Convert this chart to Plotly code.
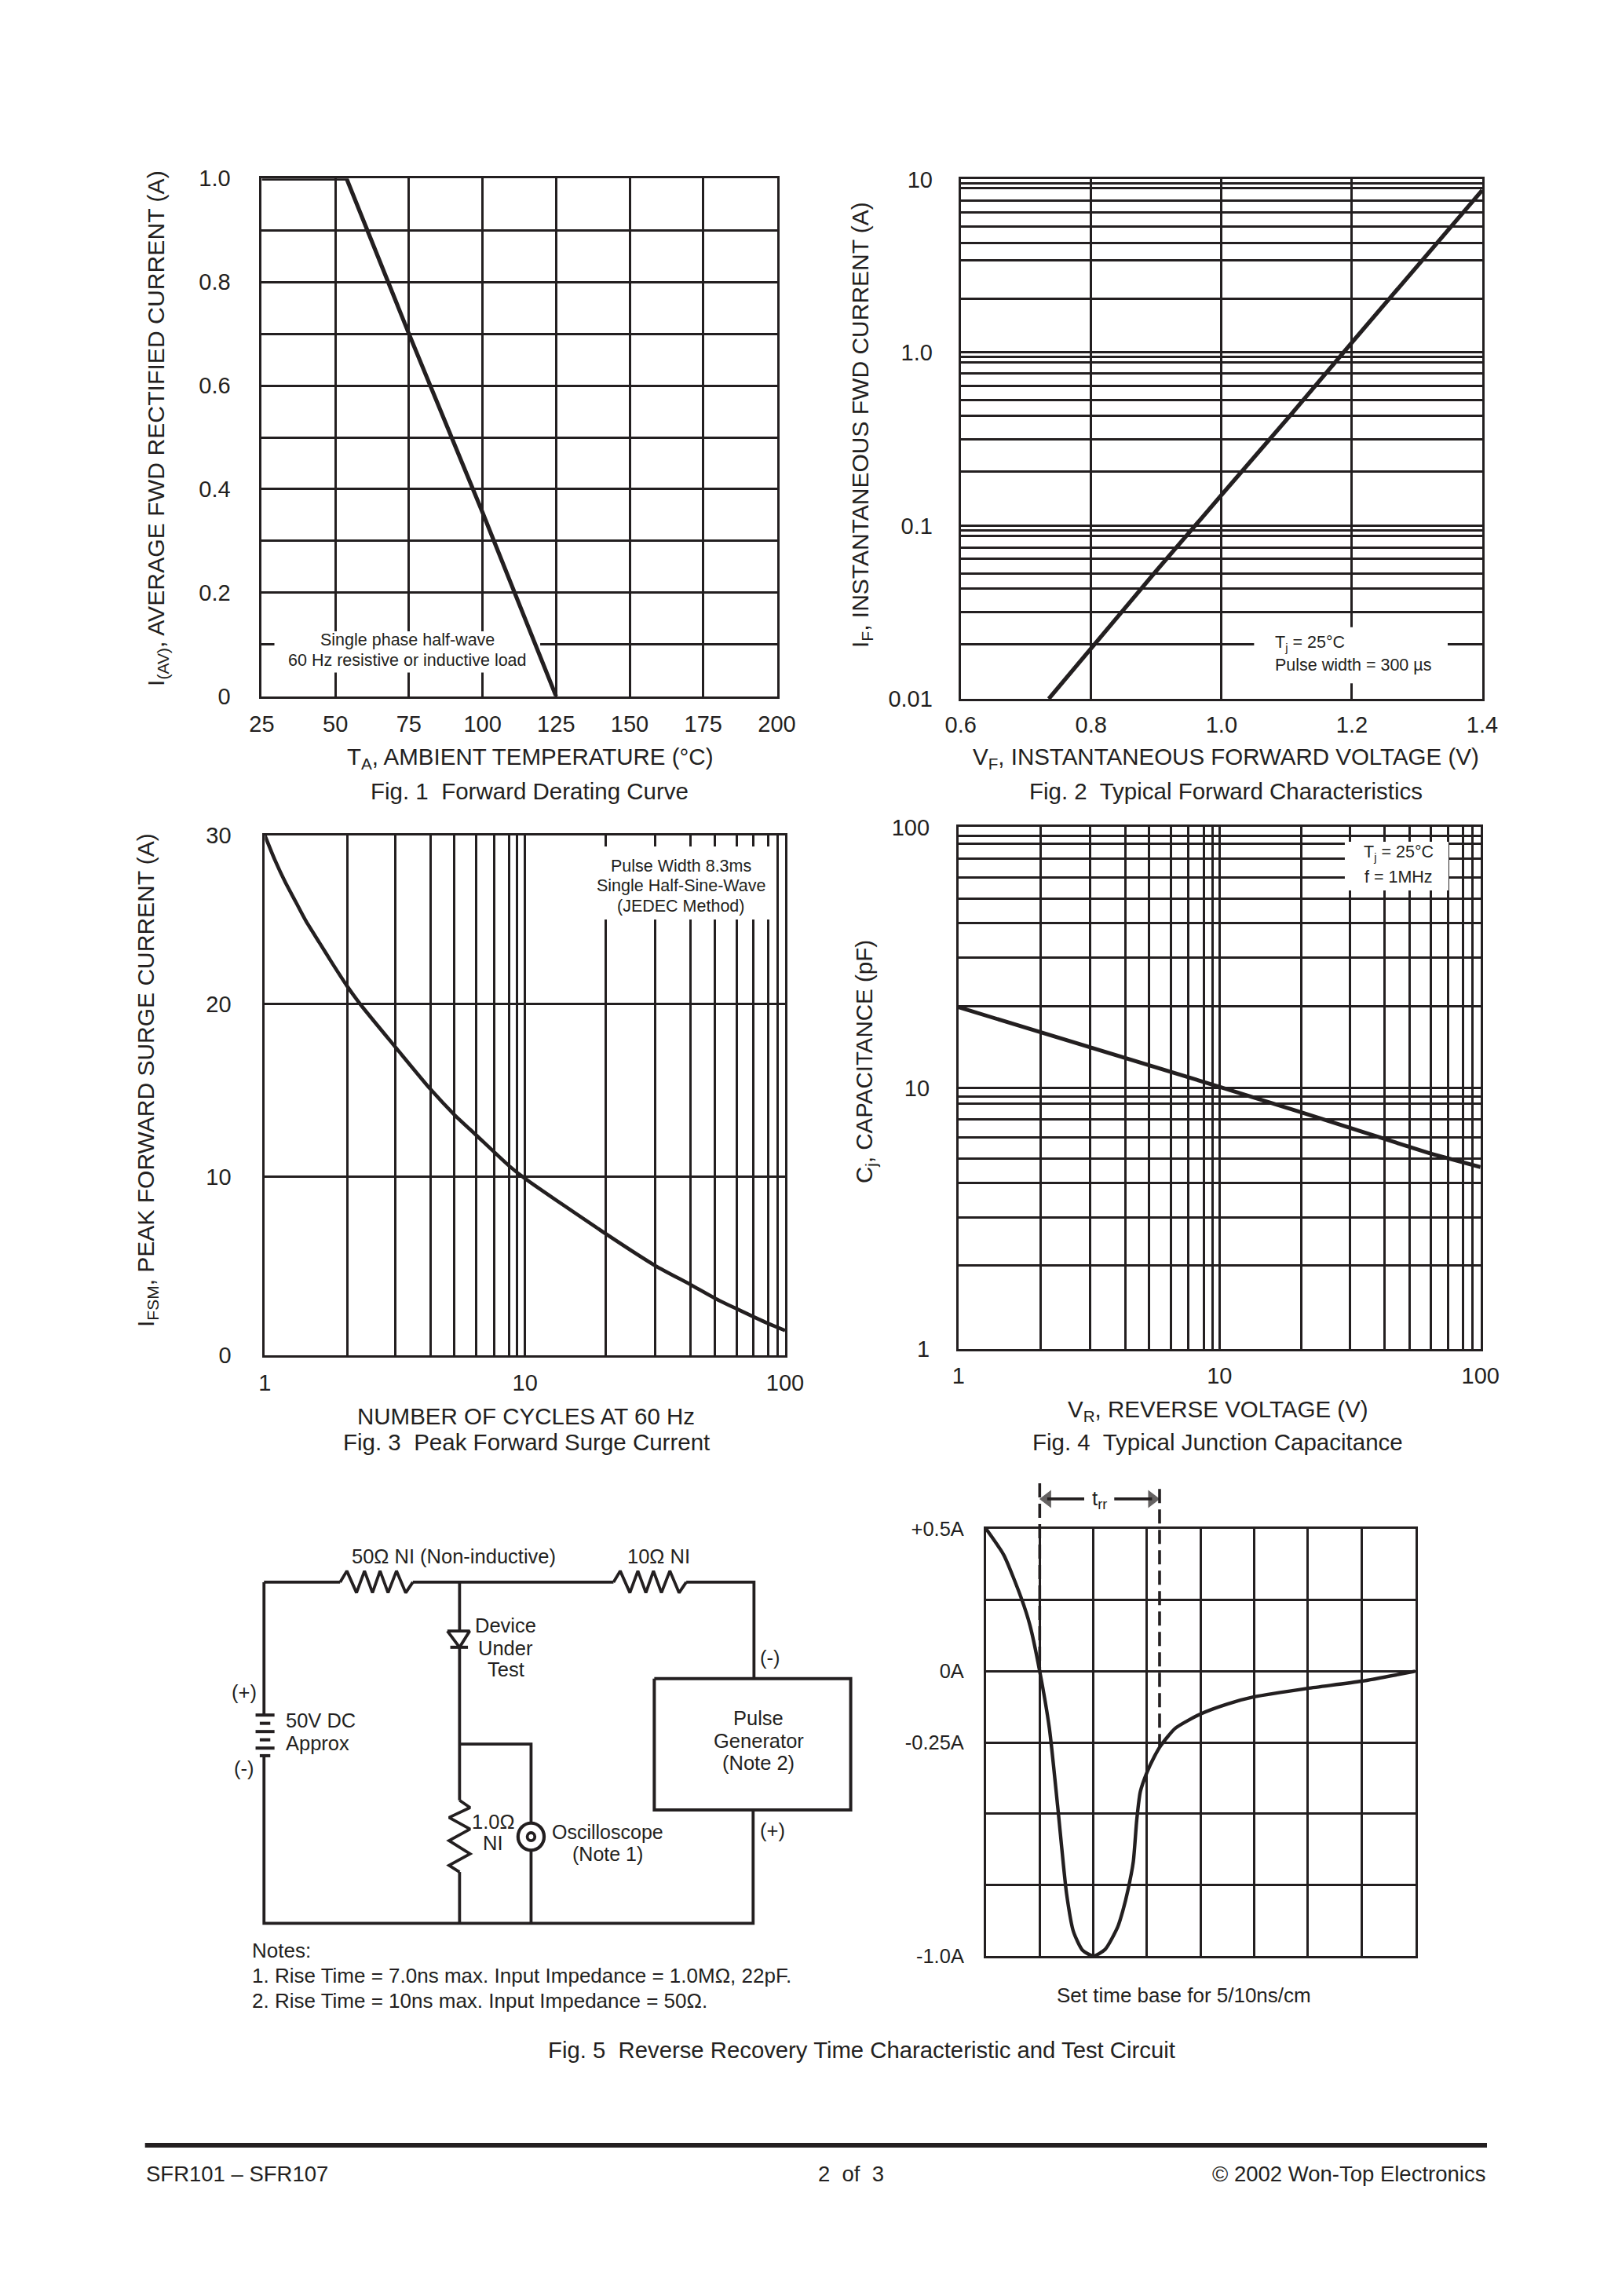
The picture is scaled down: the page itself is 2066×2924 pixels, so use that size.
import plotly.graph_objects as go

PAGE_W, PAGE_H = 2066, 2924
INK = "#231f20"
FONT = "Liberation Sans, Arial, sans-serif"

# ---------- Fig. 1 ----------
f1_x = [25, 53.8, 75, 100, 125]
f1_y = [1.0, 1.0, 0.70, 0.355, 0.0]
f1_xticks = [25, 50, 75, 100, 125, 150, 175, 200]
f1_xlabels = ["25", "50", "75", "100", "125", "150", "175", "200"]
f1_yticks = [0, .2, .4, .6, .8, 1.0]
f1_ylabels = ["0", "0.2", "0.4", "0.6", "0.8", "1.0"]
f1_ygrid = [.1, .3, .5, .7, .9]

# ---------- Fig. 2 ----------
f2_x = [.735, .802, .8966, .997, 1.105, 1.201, 1.309, 1.4]
f2_y = [.01, .02, .053, .146, .431, 1.154, 3.41, 8.66]
f2_xticks = [.6, .8, 1.0, 1.2, 1.4]
f2_xlabels = ["0.6", "0.8", "1.0", "1.2", "1.4"]
f2_yticks = [.01, .1, 1.0, 10]
f2_ylabels = ["0.01", "0.1", "1.0", "10"]
f2_ygrid = [.0207, .0316, .0433, .053, .0643, .0747, .0877, .0939,
            .206, .316, .431, .53, .643, .76, .877, .939,
            2.05, 3.41, 4.28, 5.33, 6.43, 7.51, 8.92, 9.44]

# ---------- Fig. 3 ----------
f3_x = [1, 1.0915, 1.198, 1.314, 1.441, 1.618, 1.817, 2.064, 2.344, 3.17, 4.33, 5.34, 6.5, 8.66, 10,
        20.5, 31.7, 43.3, 53.6, 65, 85.9, 100]
f3_y = [30, 28.6, 27.3, 26.17, 25.04, 23.83, 22.62, 21.34, 20.2, 17.8, 15.36, 13.9, 12.7, 10.95, 10.2,
        7.0, 5.17, 4.08, 3.3, 2.69, 1.84, 1.43]
f3_xticks = [1, 10, 100]
f3_xlabels = ["1", "10", "100"]
f3_xgrid = [2.07, 3.17, 4.33, 5.34, 6.5, 7.59, 8.66, 9.31,
            20.5, 31.7, 43.3, 53.6, 65, 75.6, 85.9, 93.4]
f3_yticks = [0, 10.29, 20.27, 30]
f3_ylabels = ["0", "10", "20", "30"]

# ---------- Fig. 4 ----------
f4_x = [1, 2.06, 3.2, 4.35, 10, 20.6, 43, 64.4, 100]
f4_y = [20.4, 16.4, 14.3, 13.0, 10.1, 8.06, 6.4, 5.6, 4.97]
f4_xticks = [1, 10, 100]
f4_xlabels = ["1", "10", "100"]
f4_xgrid = [2.06, 3.2, 4.35, 5.36, 6.51, 7.6, 8.71, 9.42,
            20.6, 31.7, 43, 53.5, 64.4, 75, 85.9, 93.3]
f4_yticks = [1, 10, 100]
f4_ylabels = ["1", "10", "100"]
f4_ygrid = [2.08, 3.19, 4.32, 5.36, 6.45, 7.57, 8.72, 9.29,
            20.6, 31.6, 42.9, 53.2, 64, 75.7, 86.1, 92.9]

# ---------- Fig. 5 waveform ----------
f5_t = [0, .33, .65, .82, 1.0, 1.18, 1.34, 1.5, 1.63, 1.8, 2.0, 2.22, 2.45, 2.55, 2.647, 2.745, 2.81, 2.876,
        3.0, 3.137, 3.25, 3.53, 4.0, 4.5, 5, 6, 7, 8]
f5_i = [.5, .408, .26, .16, 0, -.2, -.484, -.78, -.915, -.98, -1, -.977, -.9, -.841, -.767, -.669, -.521, -.423,
        -.355, -.30, -.263, -.2, -.15, -.115, -.09, -.06, -.035, 0]
f5_xgrid = [0, 1, 2, 3, 4, 5, 6, 7, 8]
f5_yticks = [.5, 0, -.25, -1]
f5_ylabels = ["+0.5A", "0A", "-0.25A", "-1.0A"]
f5_ygrid = [.25, -.5, -.75]
f5_trr = [1.0, 3.235]

# ---------- Test circuit (schematic units) ----------
wires = [
    ([105, 286], [178, 178]),
    ([459, 936], [178, 178]),
    ([1109, 1270, 1270], [178, 178, 470]),
    ([105, 105], [178, 578]),
    ([105, 105, 1268, 1268], [703, 1210, 1210, 867]),
    ([570, 570], [178, 330]),
    ([570, 570], [375, 838]),
    ([570, 570], [1055, 1210]),
    ([570, 740, 740], [668, 668, 905]),
    ([740, 740], [990, 1210]),
]
res_50_x = [286, 302, 325, 344, 363, 381, 400, 420, 442, 459]
res_10_x = [936, 952, 975, 994, 1013, 1031, 1050, 1070, 1092, 1109]
res_h_y = [178, 144, 210, 144, 210, 144, 210, 144, 210, 178]
res_1_x = [570, 595, 545, 595, 545, 595, 545, 570]
res_1_y = [838, 860, 890, 925, 960, 1000, 1035, 1055]
diode_x = [541, 594, 570, 541]
diode_y = [326, 326, 375, 326]
diode_bar_x = [548, 590]
diode_bar_y = [375, 375]
gen_x = [1033, 1500, 1500, 1033, 1033]
gen_y = [470, 470, 867, 867, 470]
batt_plates = [([85, 130], 580), ([95, 120], 605), ([85, 130], 630), ([95, 120], 655), ([85, 130], 680), ([95, 120], 703)]
scope_center = (740, 948)
circuit_text = [
    ("50Ω NI (Non-inductive)", 557, 100, "center", 25.5), ("10Ω NI", 1043, 100, "center", 25.5),
    ("Device", 680, 310, "center", 25.5), ("Under", 680, 377, "center", 25.5), ("Test", 680, 443, "center", 25.5),
    ("(+)", 57, 510, "center", 25.5), ("(-)", 57, 742, "center", 25.5),
    ("50V DC", 153, 597, "left", 25.5), ("Approx", 153, 665, "left", 25.5),
    ("(-)", 1308, 407, "center", 25.5), ("(+)", 1315, 930, "center", 25.5),
    ("Pulse", 1281, 590, "center", 25.5), ("Generator", 1281, 658, "center", 25.5), ("(Note 2)", 1281, 724, "center", 25.5),
    ("1.0Ω", 650, 902, "center", 25.5), ("NI", 650, 967, "center", 25.5),
    ("Oscilloscope", 922, 933, "center", 25), ("(Note 1)", 922, 1000, "center", 25),
    ("Notes:", 72, 1293, "left", 26),
    ("1. Rise Time = 7.0ns max. Input Impedance = 1.0MΩ, 22pF.", 72, 1368, "left", 26),
    ("2. Rise Time = 10ns max. Input Impedance = 50Ω.", 72, 1445, "left", 26),
]


def xdom(a, b):
    return [a / PAGE_W, b / PAGE_W]


def ydom(top, bottom):
    return [1 - bottom / PAGE_H, 1 - top / PAGE_H]


def axis(ax_type, rng, dom_, tickvals, ticktext, anchor, standoff, grid=None, size=29):
    d = dict(type=ax_type, range=rng, domain=dom_, tickmode="array", tickvals=tickvals, ticktext=ticktext,
             showgrid=True, gridcolor=INK, gridwidth=3, zeroline=False,
             showline=True, linecolor=INK, linewidth=3, mirror=True, ticks="",
             ticklabelstandoff=standoff, anchor=anchor,
             tickfont=dict(family=FONT, size=size, color=INK), fixedrange=True)
    if grid:
        d["minor"] = dict(tickmode="array", tickvals=grid, showgrid=True, gridcolor=INK, gridwidth=3, ticks="")
    return d


layout = dict(
    width=PAGE_W, height=PAGE_H, margin=dict(l=0, r=0, t=0, b=0, autoexpand=False),
    paper_bgcolor="white", plot_bgcolor="rgba(0,0,0,0)", showlegend=False, hovermode=False,
    font=dict(family=FONT, color=INK),
)
layout["xaxis"] = axis("linear", [25, 200], xdom(333.4, 989.5), f1_xticks, f1_xlabels, "y", 7)
layout["yaxis"] = axis("linear", [0, 1], ydom(227.3, 886.7), f1_yticks, f1_ylabels, "x", 31, f1_ygrid)
layout["xaxis2"] = axis("linear", [.6, 1.4], xdom(1223.7, 1888), f2_xticks, f2_xlabels, "y2", 5)
layout["yaxis2"] = axis("log", [-2, 1], ydom(228.4, 890), f2_yticks, f2_ylabels, "x2", 27, f2_ygrid)
layout["xaxis3"] = axis("log", [0, 2], xdom(337.4, 1000), f3_xticks, f3_xlabels, "y3", 7, f3_xgrid)
layout["yaxis3"] = axis("linear", [0, 30], ydom(1064, 1726), f3_yticks, f3_ylabels, "x3", 34)
layout["xaxis4"] = axis("log", [0, 2], xdom(1220.9, 1885.8), f4_xticks, f4_xlabels, "y4", 7, f4_xgrid)
layout["yaxis4"] = axis("log", [0, 2], ydom(1053.4, 1717.6), f4_yticks, f4_ylabels, "x4", 28, f4_ygrid)
layout["xaxis5"] = axis("linear", [0, 8], xdom(1256, 1802.5), f5_xgrid, f5_xgrid, "y5", 0)
layout["xaxis5"]["showticklabels"] = False
layout["yaxis5"] = axis("linear", [-1, .5], ydom(1947, 2491), f5_yticks, f5_ylabels, "x5", 20, f5_ygrid, size=25.5)
# hidden schematic axes for the test circuit
layout["xaxis6"] = dict(range=[0, 1568], domain=xdom(280, 1120), visible=False, anchor="y6", fixedrange=True)
layout["yaxis6"] = dict(range=[1568, 0], domain=ydom(1940, 2600), visible=False, anchor="x6", fixedrange=True)
# hidden extension of the Fig. 5 axes, reaching above the graticule for the t_rr marks
layout["xaxis7"] = dict(range=[0, 8], domain=xdom(1256, 1802.5), visible=False, anchor="y7", fixedrange=True)
layout["yaxis7"] = dict(range=[-1, .671], domain=ydom(1885, 2491), visible=False, anchor="x7", fixedrange=True)

fig = go.Figure()


def curve(x, y, n, width=5.2, spline=False, dash=None):
    fig.add_trace(go.Scatter(x=x, y=y, mode="lines", xaxis=f"x{n}", yaxis=f"y{n}", cliponaxis=False,
                             line=dict(color=INK, width=width, shape="spline" if spline else "linear",
                                       smoothing=0.6, dash=dash), hoverinfo="skip"))


curve(f1_x, f1_y, "")
curve(f2_x, f2_y, 2)
curve(f3_x, f3_y, 3, 4.6, True)
curve(f4_x, f4_y, 4, 5)
curve(f5_t, f5_i, 5, 4.4, True)
curve([f5_trr[0]] * 2, [.66, 0], 7, 3.6, dash="18px,8px")
curve([f5_trr[1]] * 2, [.64, -.263], 7, 3.6, dash="18px,8px")
for head, tail, sym in [(f5_trr[0], 1.83, "triangle-left"), (f5_trr[1], 2.39, "triangle-right")]:
    fig.add_trace(go.Scatter(x=[tail, head + (0.14 if head < tail else -0.14)], y=[.605, .605], mode="lines+markers",
                             xaxis="x7", yaxis="y7", cliponaxis=False, line=dict(color=INK, width=3.8),
                             hoverinfo="skip", marker=dict(symbol=sym, size=[0, 20], color=INK, line_width=0)))

# circuit
for wx, wy in wires:
    curve(wx, wy, 6, 3.8)
curve(res_50_x, res_h_y, 6, 3.8)
curve(res_10_x, res_h_y, 6, 3.8)
curve(res_1_x, res_1_y, 6, 3.8)
curve(diode_x, diode_y, 6, 3.8)
curve(diode_bar_x, diode_bar_y, 6, 4)
curve(gen_x, gen_y, 6, 4)
for px, py in batt_plates:
    curve(px, [py, py], 6, 4)

shapes = [
    dict(type="rect", xref="x", yref="y", x0=29.3, x1=119.6, y0=.0458, y1=.1254, layer="between",
         line_width=0, fillcolor="white"),
    dict(type="rect", xref="x2", yref="y2", x0=1.05, x1=1.347, y0=.0123, y1=.0259, layer="between",
         line_width=0, fillcolor="white"),
    dict(type="rect", xref="x3", yref="y3", x0=19.5, x1=88.9, y0=25.15, y1=29.37, layer="between",
         line_width=0, fillcolor="white"),
    dict(type="rect", xref="x4", yref="y4", x0=30.2, x1=75.4, y0=57.2, y1=87.9, layer="between",
         line_width=0, fillcolor="white"),
    # scope jack: ring and dot
    dict(type="circle", xref="x6", yref="y6", x0=scope_center[0] - 31, x1=scope_center[0] + 31,
         y0=scope_center[1] - 41, y1=scope_center[1] + 41, line=dict(color=INK, width=4.2), fillcolor="white",
         layer="above"),
    dict(type="circle", xref="x6", yref="y6", x0=scope_center[0] - 9, x1=scope_center[0] + 9,
         y0=scope_center[1] - 12, y1=scope_center[1] + 12, line=dict(color=INK, width=3.8), fillcolor="white",
         layer="above"),
    # footer rule
    dict(type="rect", xref="paper", yref="paper", x0=184.7 / PAGE_W, x1=1894 / PAGE_W,
         y0=1 - 2735 / PAGE_H, y1=1 - 2729 / PAGE_H, line_width=0, fillcolor=INK),
]

ann = []


def text(s, x, y, size=29.5, anchor="center", angle=0):
    ann.append(dict(text=s, x=x / PAGE_W, y=1 - y / PAGE_H, xref="paper", yref="paper", showarrow=False,
                    xanchor=anchor, yanchor="middle", textangle=angle,
                    font=dict(family=FONT, size=size, color=INK)))


text("T<sub>A</sub>, AMBIENT TEMPERATURE (°C)", 675, 966)
text("Fig. 1  Forward Derating Curve", 674, 1007)
text("I<sub>(AV)</sub>, AVERAGE FWD RECTIFIED CURRENT (A)", 200, 546, 30.2, angle=-90)
text("Single phase half-wave", 519, 815, 21.5)
text("60 Hz resistive or inductive load", 519, 840.6, 21.5)

text("V<sub>F</sub>, INSTANTANEOUS FORWARD VOLTAGE (V)", 1561, 966)
text("Fig. 2  Typical Forward Characteristics", 1561, 1007)
text("I<sub>F</sub>, INSTANTANEOUS FWD CURRENT (A)", 1097, 541, 30, angle=-90)
text("T<sub>j</sub> = 25°C", 1621.5, 819, 21.5, "left")
text("Pulse width = 300 µs", 1621.5, 847, 21.5, "left")

text("NUMBER OF CYCLES AT 60 Hz", 670, 1803)
text("Fig. 3  Peak Forward Surge Current", 670, 1836)
text("I<sub>FSM</sub>, PEAK FORWARD SURGE CURRENT (A)", 187, 1376, 30, angle=-90)
text("Pulse Width 8.3ms", 867, 1103, 21.5)
text("Single Half-Sine-Wave", 867, 1128, 21.5)
text("(JEDEC Method)", 867, 1154, 21.5)

text("V<sub>R</sub>, REVERSE VOLTAGE (V)", 1551, 1796)
text("Fig. 4  Typical Junction Capacitance", 1551, 1836)
text("C<sub>j</sub>, CAPACITANCE (pF)", 1102, 1352, 29.5, angle=-90)
text("T<sub>j</sub> = 25°C", 1781.5, 1086.6, 21.5)
text("f = 1MHz", 1781.5, 1116.6, 21.5)

text("Set time base for 5/10ns/cm", 1508, 2541, 26)
text("Fig. 5  Reverse Recovery Time Characteristic and Test Circuit", 1097, 2610, 29.3)
text("SFR101 – SFR107", 184, 2768, 27.5, "left")
text("2  of  3", 1084, 2768, 27.5)
text("© 2002 Won-Top Electronics", 1894, 2768, 27.5, "right")
text("t<sub>rr</sub>", 1400, 1909, 26)

for s, x, y, a, sz in circuit_text:
    ann.append(dict(text=s, x=x, y=y, xref="x6", yref="y6", showarrow=False, xanchor=a, yanchor="middle",
                    font=dict(family=FONT, size=sz, color=INK)))

layout["shapes"] = shapes
layout["annotations"] = ann
fig.update_layout(**layout)
fig.write_html("out.html", post_script="document.body.style.margin='0';", config=dict(displayModeBar=False))
